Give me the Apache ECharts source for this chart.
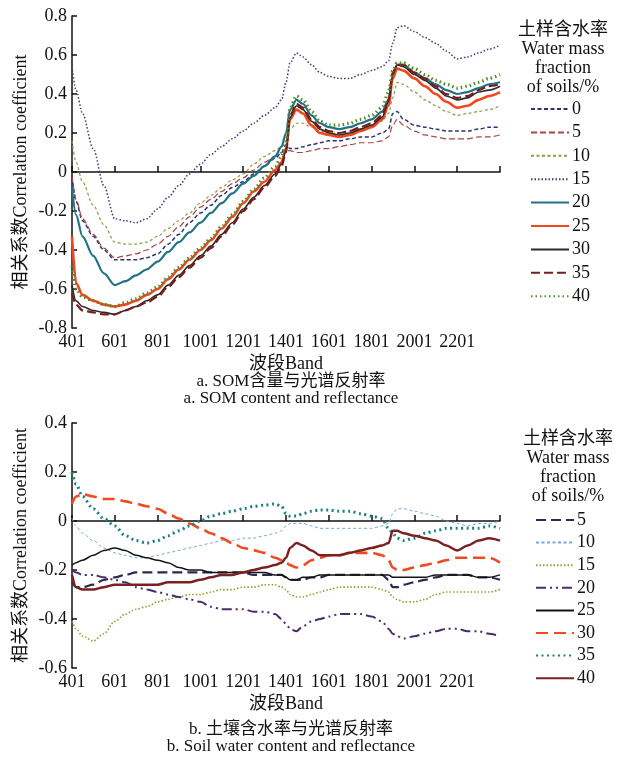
<!DOCTYPE html>
<html>
<head>
<meta charset="utf-8">
<script src="https://cdn.jsdelivr.net/npm/echarts@6/dist/echarts.min.js"></script>
<style>
html,body{margin:0;padding:0;background:#fff;}
#c{width:622px;height:758px;}
</style>
</head>
<body>
<div id="c"></div>
<script>
// ---------- DATA ----------
const bands = [401,420,450,500,550,601,650,700,750,801,850,900,950,1001,1050,1100,1150,1201,1250,1300,1350,1380,1401,1420,1450,1480,1520,1560,1601,1650,1700,1750,1801,1850,1880,1900,1920,1950,2001,2050,2101,2150,2201,2250,2301,2350,2401];
const xTickLabels = [401,601,801,1001,1201,1401,1601,1801,2001,2201];
const xTicks = [401,601,801,1001,1201,1401,1601,1801,2001,2201,2401];

// (a) SOM content vs reflectance, by soil water mass fraction (%)
const namesA = ['0','5','10','15','20','25','30','35','40'];
const a0  = [-.02,-.15,-.25,-.33,-.40,-.45,-.45,-.45,-.44,-.42,-.37,-.32,-.26,-.21,-.17,-.12,-.08,-.05,-.01,.03,.07,.10,.14,.12,.12,.13,.14,.15,.16,.16,.17,.18,.18,.20,.22,.30,.31,.27,.24,.23,.22,.21,.21,.21,.22,.23,.23];
const a5  = [-.02,-.14,-.24,-.32,-.39,-.44,-.43,-.42,-.40,-.37,-.33,-.28,-.23,-.18,-.14,-.10,-.06,-.03,.01,.05,.08,.10,.11,.11,.10,.10,.11,.12,.12,.13,.14,.15,.15,.16,.18,.24,.27,.24,.21,.19,.18,.17,.17,.17,.18,.18,.19];
const a10 = [.16,.05,-.05,-.17,-.27,-.36,-.37,-.37,-.36,-.33,-.29,-.25,-.21,-.16,-.12,-.08,-.04,-.01,.04,.08,.11,.13,.16,.22,.25,.25,.23,.21,.20,.20,.21,.22,.24,.26,.30,.38,.46,.45,.41,.37,.34,.31,.29,.30,.31,.32,.34];
const a15 = [.54,.42,.30,.12,-.07,-.24,-.25,-.26,-.24,-.19,-.13,-.07,-.01,.04,.09,.13,.17,.21,.25,.29,.33,.37,.46,.56,.61,.59,.55,.51,.49,.48,.48,.50,.52,.54,.57,.66,.74,.75,.72,.69,.66,.62,.58,.59,.61,.63,.65];
const a20 = [-.08,-.22,-.33,-.43,-.52,-.58,-.56,-.53,-.50,-.46,-.41,-.36,-.31,-.26,-.21,-.16,-.11,-.06,-.02,.03,.08,.13,.20,.32,.37,.35,.29,.25,.23,.22,.23,.25,.27,.31,.37,.49,.55,.55,.51,.48,.45,.42,.40,.41,.43,.45,.46];
const a25 = [-.33,-.57,-.63,-.66,-.68,-.69,-.68,-.66,-.63,-.60,-.55,-.50,-.45,-.40,-.35,-.29,-.23,-.16,-.10,-.05,.01,.05,.12,.27,.32,.30,.24,.20,.19,.18,.19,.21,.23,.27,.34,.48,.53,.52,.48,.44,.40,.36,.33,.34,.37,.39,.41];
const a30 = [-.58,-.66,-.69,-.71,-.72,-.73,-.71,-.69,-.66,-.63,-.58,-.53,-.48,-.43,-.38,-.32,-.26,-.19,-.13,-.07,-.01,.04,.11,.28,.34,.32,.26,.22,.20,.19,.20,.22,.24,.28,.36,.50,.55,.54,.50,.47,.43,.39,.37,.38,.41,.42,.44];
const a35 = [-.62,-.68,-.71,-.72,-.73,-.73,-.71,-.69,-.67,-.64,-.59,-.54,-.49,-.44,-.39,-.33,-.27,-.20,-.14,-.08,-.02,.03,.10,.29,.35,.33,.27,.23,.21,.20,.21,.23,.25,.29,.37,.51,.55,.55,.51,.48,.44,.40,.38,.39,.42,.44,.45];
const a40 = [-.48,-.60,-.64,-.66,-.68,-.69,-.67,-.65,-.62,-.59,-.54,-.49,-.44,-.39,-.34,-.28,-.22,-.15,-.09,-.03,.03,.08,.15,.33,.39,.37,.31,.26,.24,.24,.25,.27,.29,.33,.41,.52,.56,.56,.53,.50,.47,.45,.43,.44,.46,.48,.50];

// (b) Soil water content vs reflectance, by soil water mass fraction (%)
const namesB = ['5','10','15','20','25','30','35','40'];
const b5  = [-.25,-.27,-.27,-.26,-.24,-.23,-.22,-.21,-.21,-.21,-.21,-.21,-.21,-.21,-.21,-.21,-.21,-.21,-.22,-.22,-.22,-.22,-.23,-.24,-.24,-.24,-.23,-.23,-.22,-.22,-.22,-.22,-.22,-.22,-.24,-.27,-.27,-.26,-.25,-.24,-.23,-.22,-.22,-.22,-.23,-.23,-.24];
const b10 = [.01,-.02,-.05,-.08,-.11,-.13,-.14,-.15,-.15,-.14,-.13,-.12,-.11,-.10,-.09,-.08,-.08,-.07,-.07,-.06,-.05,-.04,-.02,-.01,-.01,-.01,-.02,-.03,-.03,-.03,-.03,-.03,-.03,-.02,-.01,.03,.05,.05,.04,.03,.02,.00,-.01,-.02,-.01,-.01,.00];
const b15 = [-.41,-.44,-.47,-.49,-.46,-.41,-.38,-.36,-.35,-.33,-.32,-.31,-.30,-.30,-.29,-.28,-.28,-.27,-.27,-.26,-.26,-.27,-.28,-.30,-.31,-.31,-.30,-.29,-.28,-.27,-.27,-.27,-.27,-.28,-.29,-.31,-.32,-.33,-.33,-.32,-.30,-.29,-.29,-.29,-.29,-.29,-.28];
const b20 = [-.20,-.21,-.22,-.22,-.23,-.24,-.25,-.27,-.28,-.29,-.30,-.31,-.32,-.33,-.35,-.36,-.36,-.36,-.37,-.37,-.38,-.40,-.42,-.44,-.45,-.43,-.41,-.40,-.39,-.38,-.38,-.38,-.39,-.41,-.44,-.46,-.47,-.48,-.47,-.46,-.45,-.44,-.44,-.45,-.45,-.46,-.47];
const b25 = [-.18,-.17,-.16,-.14,-.12,-.11,-.12,-.14,-.15,-.16,-.17,-.19,-.20,-.20,-.21,-.21,-.21,-.21,-.21,-.21,-.22,-.22,-.23,-.24,-.24,-.23,-.23,-.22,-.22,-.22,-.22,-.22,-.22,-.22,-.22,-.23,-.23,-.23,-.23,-.23,-.22,-.22,-.22,-.22,-.23,-.23,-.22];
const b30 = [.07,.10,.11,.10,.09,.09,.08,.07,.06,.05,.03,.01,-.01,-.03,-.05,-.07,-.09,-.11,-.12,-.13,-.15,-.16,-.17,-.18,-.19,-.18,-.16,-.15,-.14,-.14,-.13,-.13,-.13,-.14,-.16,-.19,-.20,-.20,-.19,-.18,-.17,-.16,-.15,-.15,-.15,-.15,-.17];
const b35 = [.20,.15,.10,.05,.01,-.02,-.06,-.08,-.09,-.08,-.06,-.04,-.02,.00,.02,.03,.04,.05,.06,.065,.07,.06,.03,.02,.02,.03,.04,.045,.045,.04,.04,.03,.02,.01,-.03,-.05,-.07,-.08,-.07,-.05,-.04,-.03,-.03,-.03,-.03,-.02,-.03];
const b40 = [-.22,-.27,-.28,-.28,-.27,-.26,-.26,-.26,-.26,-.26,-.25,-.25,-.25,-.24,-.23,-.22,-.22,-.21,-.20,-.19,-.18,-.17,-.15,-.11,-.09,-.10,-.12,-.14,-.14,-.14,-.13,-.12,-.11,-.10,-.09,-.04,-.04,-.05,-.06,-.07,-.08,-.10,-.12,-.10,-.08,-.07,-.08];

const valuesA = [a0,a5,a10,a15,a20,a25,a30,a35,a40];
const valuesB = [b5,b10,b15,b20,b25,b30,b35,b40];

// ---------- STYLES ----------
const stylesA = [
  {color:'#2d3470', width:1.5, type:[4,2.5]},
  {color:'#a8464a', width:1.2, type:[6,3]},
  {color:'#8e9a48', width:1.2, type:[3,2.5]},
  {color:'#3c3a78', width:1.5, type:[1.5,2]},
  {color:'#1f7385', width:2.2, type:'solid'},
  {color:'#f2461c', width:2.6, type:'solid'},
  {color:'#2b2b2b', width:1.6, type:'solid'},
  {color:'#7a1c1c', width:2.2, type:[9,4]},
  {color:'#4f8a2c', width:3.2, type:[1.5,3]}
];
const stylesB = [
  {color:'#2a2a4e', width:2.2, type:[10,5]},
  {color:'#7ba6dc', width:1, type:[3,2.5]},
  {color:'#8aa22e', width:1.6, type:[1.5,2]},
  {color:'#4a2c6c', width:2, type:[10,4,2,4,2,4]},
  {color:'#151515', width:1.5, type:'solid'},
  {color:'#f04a1e', width:2.6, type:[12,6]},
  {color:'#1e8080', width:3, type:[2,3.5]},
  {color:'#7a2222', width:2.5, type:'solid'}
];

const SERIF = "'Liberation Serif','Noto Sans CJK SC',serif";
const FS = 18;

function mkSeries(names, values, styles, gi, prefix){
  return names.map((n,i)=>({
    name: prefix+n,
    type:'line',
    xAxisIndex: gi, yAxisIndex: gi,
    data: bands.map((b,k)=>[b, values[i][k]]),
    showSymbol:false, symbol:'none',
    smooth:0.3, smoothMonotone:'x',
    lineStyle: styles[i],
    itemStyle: {color: styles[i].color},
    emphasis:{disabled:true},
    z: 2
  }));
}

function xAxisDef(gi){
  return {
    gridIndex: gi, type:'value', min:401, max:2401,
    name:'波段Band', nameLocation:'middle', nameGap:27,
    nameTextStyle:{fontFamily:SERIF, fontSize:FS, color:'#111'},
    axisLine:{lineStyle:{color:'#111', width:1.5}},
    axisTick:{show:true, inside:true, length:6, customValues:xTicks, lineStyle:{color:'#111',width:1.5}},
    axisLabel:{customValues:xTickLabels, fontFamily:SERIF, fontSize:FS, color:'#111', margin:5,
      formatter:v=>String(v)},
    splitLine:{show:false}
  };
}
function yAxisDef(gi, min, max){
  return {
    gridIndex: gi, type:'value', min:min, max:max, interval:0.2,
    name:'相关系数Correlation coefficient', nameLocation:'middle', nameGap:42, nameRotate:90,
    nameMoveOverlap:false,
    nameTextStyle:{fontFamily:SERIF, fontSize:FS, color:'#111'},
    axisLine:{show:true, lineStyle:{color:'#111', width:1.5}},
    axisTick:{show:true, inside:true, length:5, lineStyle:{color:'#111',width:1.5}},
    axisLabel:{fontFamily:SERIF, fontSize:FS, color:'#111', margin:5,
      formatter:v=>{const r=Math.round(v*10)/10; return r===0?'0':String(r);}},
    splitLine:{show:false}
  };
}

const legendText = {fontFamily:SERIF, fontSize:FS, color:'#111', padding:[0,0,0,-2]};
const legendCommon = {orient:'vertical', itemWidth:38, itemHeight:20, padding:0,
  formatter:n=>n.slice(1), textStyle:legendText, selectedMode:false,
  itemStyle:{opacity:0, borderWidth:0}};

const option = {
  backgroundColor:'#fff',
  animation:false,
  grid:[
    {left:72, top:16, width:428, height:312},
    {left:72, top:423, width:428, height:245}
  ],
  xAxis:[xAxisDef(0), xAxisDef(1)],
  yAxis:[yAxisDef(0,-0.8,0.8), yAxisDef(1,-0.6,0.4)],
  title:[
    {text:'土样含水率\nWater mass\nfraction\nof soils/%', left:558, top:16, textAlign:'center',
     textStyle:{fontFamily:SERIF, fontSize:FS, fontWeight:'normal', color:'#111', lineHeight:19}},
    {text:'土样含水率\nWater mass\nfraction\nof soils/%', left:563, top:425, textAlign:'center',
     textStyle:{fontFamily:SERIF, fontSize:FS, fontWeight:'normal', color:'#111', lineHeight:19}},
    {text:'a. SOM含量与光谱反射率\na. SOM content and reflectance', left:286, top:368, textAlign:'center',
     textStyle:{fontFamily:SERIF, fontSize:FS-1, fontWeight:'normal', color:'#111', lineHeight:17, align:'center'}},
    {text:'b. 土壤含水率与光谱反射率\nb. Soil water content and reflectance', left:286, top:716, textAlign:'center',
     textStyle:{fontFamily:SERIF, fontSize:FS-1, fontWeight:'normal', color:'#111', lineHeight:17, align:'center'}}
  ],
  legend:[
    Object.assign({data:namesA.map(n=>'a'+n), left:530, top:100, itemGap:5.4}, legendCommon),
    Object.assign({data:namesB.map(n=>'b'+n), left:535, top:511, itemGap:4.6}, legendCommon)
  ],
  series:[...mkSeries(namesA, valuesA, stylesA, 0, 'a'), ...mkSeries(namesB, valuesB, stylesB, 1, 'b')]
};

const chart = echarts.init(document.getElementById('c'), null, {renderer:'canvas'});
chart.setOption(option);
</script>
</body>
</html>
